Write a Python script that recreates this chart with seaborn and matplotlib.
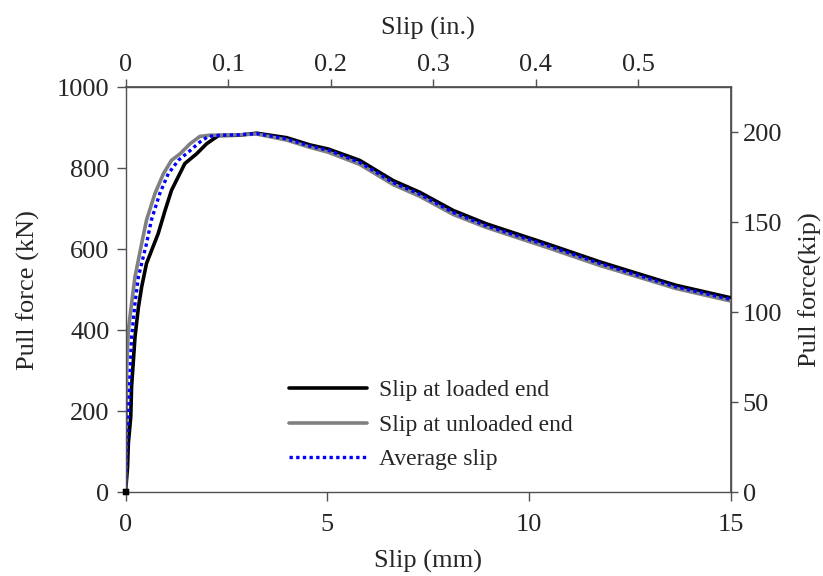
import matplotlib
matplotlib.use("Agg")
import matplotlib.pyplot as plt
import seaborn as sns
import pandas as pd

# --- data ---
slip_loaded = [0, 0.05, 0.07, 0.13, 0.15, 0.235, 0.32, 0.40, 0.52, 0.81, 0.98, 1.14, 1.47, 1.76,
               2.01, 2.30, 2.8, 3.25, 3.99, 4.57, 5.02, 5.80, 6.63, 7.29, 8.12, 8.94, 10.43,
               11.75, 12.82, 13.64, 15.0]
force_loaded = [0, 60, 120, 186, 260, 383, 457, 507, 565, 639, 696, 746, 812, 836,
                861, 881, 882, 887, 876, 858, 848, 820, 770, 741, 696, 663, 614,
                569, 536, 511, 480]

slip_unloaded = [0, 0.01, 0.03, 0.07, 0.15, 0.235, 0.40, 0.52, 0.73, 0.94, 1.14, 1.35, 1.60,
                 1.84, 2.09, 2.8, 3.25, 3.99, 4.57, 5.02, 5.80, 6.63, 7.29, 8.12, 8.94, 10.43,
                 11.75, 12.82, 13.64, 15.0]
force_unloaded = [0, 120, 309, 400, 466, 532, 614, 672, 738, 787, 820, 836, 861,
                  879, 882, 883, 885, 870, 852, 840, 810, 760, 731, 686, 654, 605,
                  560, 528, 503, 472]

slip_avg = [0, 0.04, 0.1, 0.15, 0.235, 0.32, 0.52, 0.64, 0.85, 1.06, 1.31, 1.60, 1.84, 2.05,
            2.34, 2.8, 3.25, 3.99, 4.57, 5.02, 5.80, 6.63, 7.29, 8.12, 8.94, 10.43, 11.75,
            12.82, 13.64, 15.0]
force_avg = [0, 120, 260, 383, 466, 532, 614, 672, 738, 787, 820, 844, 865, 879,
             882, 883, 886, 873, 855, 845, 815, 765, 736, 691, 658, 610, 565,
             532, 507, 476]

series_names = ["Slip at loaded end", "Slip at unloaded end", "Average slip"]
x_ticks_mm = [0, 5, 10, 15]
y_ticks_kn = [0, 200, 400, 600, 800, 1000]
x_ticks_in = [0, 0.1, 0.2, 0.3, 0.4, 0.5]
x_ticklabels_in = ["0", "0.1", "0.2", "0.3", "0.4", "0.5"]
y_ticks_kip = [0, 50, 100, 150, 200]

MM_PER_IN = 25.4
KN_PER_KIP = 4.448

sns.set_theme(style="white")
plt.rcParams["font.family"] = ["Liberation Serif", "DejaVu Serif"]

AX_COL = "#505050"

fig = plt.figure(figsize=(8.23, 5.76), dpi=100)
ax = fig.add_axes([0.1525, 0.1458, 0.7357, 0.7023])

df_l = pd.DataFrame({"slip": slip_loaded, "force": force_loaded})
df_u = pd.DataFrame({"slip": slip_unloaded, "force": force_unloaded})
df_a = pd.DataFrame({"slip": slip_avg, "force": force_avg})

sns.lineplot(data=df_l, x="slip", y="force", ax=ax, sort=False, estimator=None,
             color="black", lw=2.6, label=series_names[0])
sns.lineplot(data=df_u, x="slip", y="force", ax=ax, sort=False, estimator=None,
             color="#808080", lw=2.6, label=series_names[1])
sns.lineplot(data=df_a, x="slip", y="force", ax=ax, sort=False, estimator=None,
             color="#0000ff", lw=2.4, label=series_names[2])
ax.lines[2].set_linestyle((0, (1, 1)))
# small square marker at the origin of the loaded-end curve
sns.scatterplot(x=df_l["slip"].iloc[:1], y=df_l["force"].iloc[:1], ax=ax, marker="s",
                s=20, color="black", edgecolor="black", legend=False, zorder=5, clip_on=False)

ax.set_xlim(0, 15)
ax.set_ylim(0, 1000)
ax.set_xticks(x_ticks_mm)
ax.set_yticks(y_ticks_kn)
ax.set_xlabel("Slip (mm)", fontsize=19, labelpad=10)
ax.set_ylabel("Pull force (kN)", fontsize=19, labelpad=12)
ax.tick_params(axis="both", labelsize=19, direction="out", length=6.5, width=1,
               color=AX_COL, bottom=True, left=True)
ax.tick_params(axis="x", pad=9)
ax.tick_params(axis="y", pad=5)

for s in ax.spines.values():
    s.set_color(AX_COL)
    s.set_linewidth(1)

secx = ax.secondary_xaxis("top", functions=(lambda x: x / MM_PER_IN, lambda x: x * MM_PER_IN))
secx.set_xticks(x_ticks_in)
secx.set_xticklabels(x_ticklabels_in)
secx.set_xlabel("Slip (in.)", fontsize=19, labelpad=14)
secx.tick_params(labelsize=19, direction="out", length=6, width=1, color=AX_COL, pad=2)

secy = ax.secondary_yaxis("right", functions=(lambda y: y / KN_PER_KIP, lambda y: y * KN_PER_KIP))
secy.set_yticks(y_ticks_kip)
secy.set_ylabel("Pull force(kip)", fontsize=19, labelpad=12)
secy.tick_params(labelsize=19, direction="out", length=5, width=1, color=AX_COL)
for s in list(secx.spines.values()) + list(secy.spines.values()):
    s.set_color(AX_COL)

leg = ax.legend(loc="upper left", bbox_to_anchor=(0.235, 0.33), frameon=False,
                fontsize=17, handlelength=3.3, labelspacing=0.55, handletextpad=0.5)

fig.savefig("out.png", dpi=100)
